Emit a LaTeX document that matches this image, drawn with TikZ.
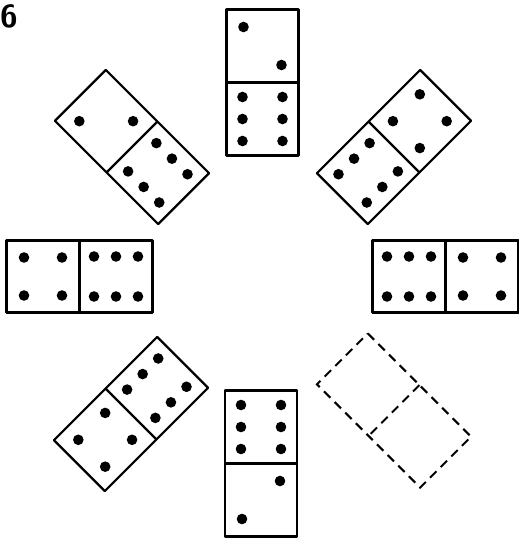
\documentclass[tikz,border=0pt]{standalone}
\begin{document}
\begin{tikzpicture}[x=1pt, y=1pt,
        tile/.style={draw, line width=2.2pt, line join=round},
        blank/.style={draw, line width=2pt, dash pattern=on 9pt off 6pt},
        pip/.style={fill=black}]
        \useasboundingbox (0,0) rectangle (519,542);
        \node[anchor=north west, inner sep=0pt, font=\fontsize{32}{32}\selectfont\sffamily\bfseries] (num) at (0,538) {6};

        % solid tiles: centre / angle / pips of the outer half
        \foreach \cx/\cy/\ang/\outer in {
                262.5/459.5/0/{-19/55.5,19/17.5},
                394/395/-45/{-19/55.5,19/55.5,-19/17.5,19/17.5},
                445.5/265.5/-90/{-19/55.5,19/55.5,-19/17.5,19/17.5},
                261/78.5/180/{19/55.5,-19/17.5},
                131/128/135/{-19/55.5,19/55.5,-19/17.5,19/17.5},
                79.5/265.5/90/{-19/55.5,19/55.5,-19/17.5,19/17.5},
                132/395/45/{-19/55.5,19/17.5}} {
            \begin{scope}[shift={(\cx,\cy)}, rotate=\ang]
                \draw[tile] (-36,-73) rectangle (36,73) (-36,0) -- (36,0);
                \foreach \px/\py in \outer
                    \fill[pip] (\px,\py) circle (5.3);
                \foreach \px in {-20,20}
                    \foreach \py in {-14.5,-36.5,-58.5}
                        \fill[pip] (\px,\py) circle (5.3);
            \end{scope}
        }

        % the empty place
        \begin{scope}[shift={(394,131.5)}, rotate=-135]
            \draw[blank] (-36,-73) rectangle (36,73) (-36,0) -- (36,0);
        \end{scope}
        \end{tikzpicture}
\end{document}
